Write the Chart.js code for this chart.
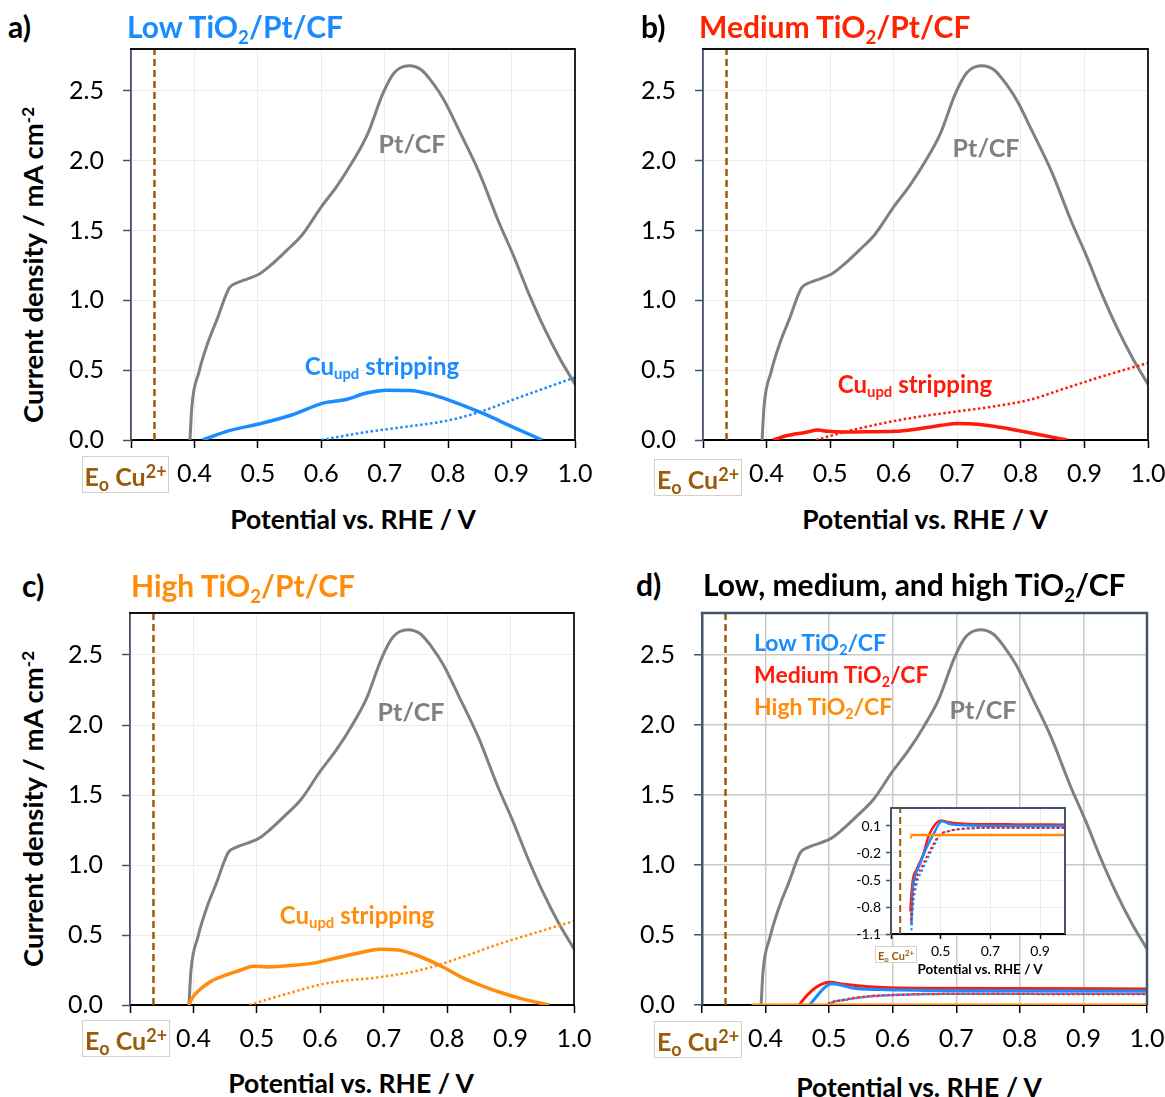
<!DOCTYPE html>
<html><head><meta charset="utf-8">
<script src="https://cdn.jsdelivr.net/npm/chart.js@4.4.1/dist/chart.umd.min.js"></script>
<style>
body{margin:0;background:#fff;width:1165px;height:1097px;position:relative;overflow:hidden;font-family:Lato,'Open Sans',sans-serif;}
canvas{position:absolute;}
.tx{position:absolute;white-space:nowrap;line-height:1;font-weight:bold;}
.tx sub{font-size:0.62em;vertical-align:-0.3em;line-height:0;}
.tx sup{font-size:0.62em;vertical-align:0.55em;line-height:0;}
.eo{position:absolute;border:1.5px solid #d8d0c4;background:#fff;color:#9A5B0A;font-weight:bold;white-space:nowrap;box-sizing:border-box;text-align:center;}
.eo span.in{position:absolute;left:50%;top:50%;transform:translate(-50%,-45%);line-height:1;}
.eo .sb{font-size:0.72em;position:relative;top:0.3em;}
.eo .sp{font-size:0.72em;position:relative;top:-0.42em;}
</style></head><body>
<script>
// ---------- data ----------
const eoCu = 0.337;
const xTickVals = [0.3,0.4,0.5,0.6,0.7,0.8,0.9,1.0];
const xTickLabels = ['','0.4','0.5','0.6','0.7','0.8','0.9','1.0'];
const yTickVals = [0,0.5,1.0,1.5,2.0,2.5];
const yTickLabels = ['0.0','0.5','1.0','1.5','2.0','2.5'];
const insetXTickVals = [0.3,0.5,0.7,0.9];
const insetXTickLabels = ['','0.5','0.7','0.9'];
const insetYTickVals = [0.1,-0.2,-0.5,-0.8,-1.1];
const insetYTickLabels = ['0.1','-0.2','-0.5','-0.8','-1.1'];

// Pt/CF (same in every panel)
const ptX = [0.393,0.396,0.407,0.422,0.437,0.449,0.455,0.467,0.485,0.503,0.52,0.546,0.57,0.60,0.625,0.649,0.673,0.697,0.715,0.738,0.758,0.776,0.794,0.818,0.849,0.879,0.903,0.927,0.951,0.976,1.0];
const ptY = [0,0.24,0.485,0.707,0.88,1.03,1.09,1.126,1.156,1.19,1.25,1.36,1.47,1.67,1.82,1.99,2.19,2.48,2.63,2.68,2.65,2.555,2.43,2.21,1.915,1.57,1.32,1.05,0.806,0.584,0.40];

// a) Low TiO2/Pt/CF
const lowX = [0.413,0.455,0.503,0.552,0.603,0.637,0.673,0.703,0.74,0.77,0.80,0.855,0.903,0.948];
const lowY = [0,0.067,0.116,0.177,0.264,0.288,0.338,0.357,0.355,0.33,0.288,0.19,0.091,0];
const lowDotX = [0.60,0.667,0.727,0.80,0.849,0.909,1.0];
const lowDotY = [0,0.054,0.091,0.14,0.2,0.30,0.448];

// b) Medium TiO2/Pt/CF
const medX = [0.41,0.431,0.461,0.481,0.496,0.52,0.555,0.602,0.637,0.673,0.702,0.732,0.767,0.802,0.838,0.873];
const medY = [0,0.03,0.054,0.071,0.062,0.057,0.059,0.062,0.079,0.104,0.118,0.113,0.091,0.062,0.03,0];
const medDotX = [0.478,0.52,0.579,0.637,0.696,0.755,0.814,0.873,0.932,1.0];
const medDotY = [0,0.054,0.116,0.165,0.202,0.239,0.288,0.375,0.461,0.552];

// c) High TiO2/Pt/CF
const highX = [0.393,0.397,0.409,0.427,0.452,0.476,0.494,0.518,0.555,0.591,0.627,0.664,0.694,0.724,0.755,0.791,0.821,0.852,0.882,0.918,0.961];
const highY = [0,0.044,0.105,0.167,0.215,0.252,0.277,0.272,0.282,0.301,0.338,0.375,0.399,0.392,0.35,0.277,0.203,0.142,0.093,0.044,0];
const highDotX = [0.488,0.548,0.609,0.70,0.76,0.821,0.882,0.942,1.0];
const highDotY = [0,0.081,0.154,0.203,0.252,0.338,0.436,0.52,0.60];

// d) TiO2/CF
const cfLowX = [0.382,0.386,0.395,0.415,0.442,0.469,0.505,0.536,0.578,0.65,0.8,1.0];
const cfLowY = [-1.0,-0.667,-0.48,-0.333,-0.148,0.0,0.152,0.122,0.11,0.104,0.101,0.10];
const cfMedX = [0.378,0.382,0.389,0.402,0.429,0.453,0.502,0.523,0.563,0.63,0.8,1.0];
const cfMedY = [-0.85,-0.667,-0.48,-0.389,-0.222,0.0,0.162,0.148,0.13,0.12,0.118,0.115];
const cfLowDotX = [0.382,0.389,0.402,0.429,0.469,0.497,0.53,0.563,0.63,0.7,1.0];
const cfLowDotY = [-1.06,-0.78,-0.556,-0.37,-0.14,0.0,0.04,0.06,0.075,0.08,0.08];
const cfMedDotX = [0.380,0.386,0.398,0.425,0.465,0.495,0.53,0.563,0.63,0.7,1.0];
const cfMedDotY = [-0.95,-0.72,-0.52,-0.35,-0.13,0.0,0.042,0.062,0.076,0.08,0.078];
const cfHighX = [0.378,0.5,0.7,1.0];
const cfHighY = [0.0,0.0,0.0,0.0];
const cfHighDotX = [0.378,0.382,0.39,1.0];
const cfHighDotY = [-0.04,-0.02,0.0,0.0];

// ---------- style ----------
const C = {pt:'#808080', blue:'#1A8CFF', red:'#FF1A0A', orange:'#FF8C0A', brown:'#9A5B0A', slate:'#44546A'};
const FONT = 'Lato';

function ds(xs, ys, color, w, dash, order){
  return {data: xs.map((x,i)=>({x:x, y:ys[i]})), borderColor:color, borderWidth:w,
    borderDash: dash||[], pointRadius:0, fill:false, cubicInterpolationMode:'monotone', order:order};
}
function eoLine(ymin, ymax, w){
  return {data:[{x:eoCu,y:ymin},{x:eoCu,y:ymax}], borderColor:C.brown, borderWidth:w, borderDash:[7,4], pointRadius:0, order:50};
}

const framePlugin = {
  id:'frame',
  beforeDraw(chart, args, o){
    if(o.bg){const a=chart.chartArea, ctx=chart.ctx; ctx.save(); ctx.fillStyle=o.bg; ctx.fillRect(a.left,a.top,a.right-a.left,a.bottom-a.top); ctx.restore();}
  },
  afterDraw(chart, args, o){
    const a=chart.chartArea, ctx=chart.ctx;
    ctx.save(); ctx.strokeStyle=o.color; ctx.lineWidth=o.width;
    ctx.beginPath(); ctx.moveTo(a.left-o.width/2, a.top); ctx.lineTo(a.right, a.top); ctx.lineTo(a.right, a.bottom); ctx.stroke();
    ctx.restore();
  }
};

function makeChart(o){
  const cw = o.yW + (o.r-o.l) + o.padR, ch = o.padT + (o.b-o.t) + o.xH;
  const cv = document.createElement('canvas');
  cv.width = cw; cv.height = ch;
  cv.style.left = (o.l-o.yW)+'px'; cv.style.top = (o.t-o.padT)+'px';
  cv.style.width = cw+'px'; cv.style.height = ch+'px';
  document.body.appendChild(cv);
  return new Chart(cv, {
    type:'line',
    data:{datasets:o.datasets},
    options:{
      responsive:false, animation:false, devicePixelRatio:1,
      layout:{padding:{top:o.padT, right:o.padR, left:0, bottom:0}},
      plugins:{legend:{display:false}, tooltip:{enabled:false}, frame:{color:o.frameColor, width:o.frameW, bg:o.bg}},
      scales:{
        x:{type:'linear', min:o.xmin, max:o.xmax,
          afterFit:s=>{s.height=o.xH; s.paddingLeft=0; s.paddingRight=0; s.paddingTop=0; s.paddingBottom=0;},
          afterBuildTicks:s=>{s.ticks=o.xTicks.map(v=>({value:v}));},
          ticks:{autoSkip:false, maxRotation:0, minRotation:0, padding:o.xPad, color:'#000', font:{family:FONT,size:o.fs},
            callback:(v,i)=>o.xLabels[i]},
          grid:{color:o.gridColor, lineWidth:o.gridW, tickLength:o.tl, tickColor:'#000', tickWidth:1.5},
          border:{display:true, color:'#000', width:o.xBorderW}
        },
        y:{type:'linear', min:o.ymin, max:o.ymax,
          afterFit:s=>{s.width=o.yW; s.paddingLeft=0; s.paddingRight=0; s.paddingTop=0; s.paddingBottom=0;},
          afterBuildTicks:s=>{s.ticks=o.yTicks.map(v=>({value:v}));},
          ticks:{autoSkip:false, padding:o.yPad, color:'#000', font:{family:FONT,size:o.fs},
            callback:(v,i)=>o.yLabels[i]},
          grid:{color:o.gridColor, lineWidth:o.gridW, tickLength:o.tl, tickColor:o.yAxisColor, tickWidth:1.5},
          border:{display:true, color:o.yAxisColor, width:o.yBorderW}
        }
      }
    },
    plugins:[framePlugin]
  });
}

function mainPanel(ca, extra, isD){
  const datasets = [ds(ptX, ptY, C.pt, 3, null, 40), eoLine(0, 2.8, 2.5)].concat(extra);
  return makeChart({l:ca[0], t:ca[1], r:ca[2], b:ca[3], yW:80, xH:50, padT:10, padR:25,
    xmin:0.3, xmax:1.0, ymin:0, ymax:2.8, xTicks:xTickVals, xLabels:xTickLabels, yTicks:yTickVals, yLabels:yTickLabels,
    fs:25, xPad:11, yPad:19, tl:8,
    gridColor: isD ? '#c9c9c9' : '#ececec', gridW: isD ? 1.5 : 1,
    yAxisColor: C.slate, frameColor: isD ? C.slate : '#111', frameW: isD ? 2.5 : 1.8,
    xBorderW:2, yBorderW: isD ? 2.5 : 1.8, datasets});
}

// a
mainPanel([131,49,575,440], [ds(lowX, lowY, C.blue, 3.5, null, 1), ds(lowDotX, lowDotY, C.blue, 2.5, [2.5,2.5], 2)]);
// b
mainPanel([703,49,1148,440], [ds(medX, medY, C.red, 3.5, null, 1), ds(medDotX, medDotY, C.red, 2.5, [2.5,2.5], 2)]);
// c
mainPanel([130,613,574,1005], [ds(highX, highY, C.orange, 3.5, null, 1), ds(highDotX, highDotY, C.orange, 2.5, [2.5,2.5], 2)]);
// d
const dSets = () => [
  ds(cfHighX, cfHighY, C.orange, 3, null, 1),
  ds(cfHighDotX, cfHighDotY, C.orange, 2.5, [2.5,2.5], 2),
  ds(cfMedDotX, cfMedDotY, C.red, 2.5, [2.5,2.5], 3),
  ds(cfLowDotX, cfLowDotY, C.blue, 2.5, [2.5,2.5], 4),
  ds(cfLowX, cfLowY, C.blue, 3, null, 5),
  ds(cfMedX, cfMedY, C.red, 3, null, 6)
];
mainPanel([702,613,1147,1005], dSets(), true);

// inset
makeChart({l:891, t:808, r:1065, b:934, yW:50, xH:28, padT:6, padR:12,
  xmin:0.3, xmax:1.0, ymin:-1.1, ymax:0.3, xTicks:insetXTickVals, xLabels:insetXTickLabels, yTicks:insetYTickVals, yLabels:insetYTickLabels,
  fs:14, xPad:4, yPad:5, tl:5, gridColor:'#ededed', gridW:1, yAxisColor:C.slate, frameColor:C.slate, frameW:2,
  xBorderW:2, yBorderW:2, bg:'#fff',
  datasets:[eoLine(-1.1, 0.3, 2)].concat(dSets().map(d=>Object.assign(d,{borderWidth: d.borderDash.length?2:2.5})))});

// ---------- text ----------
function txt(html, x, y, size, color, align){
  const d = document.createElement('div');
  d.className='tx'; d.innerHTML=html;
  d.style.fontSize=size+'px'; d.style.color=color;
  d.style.left=x+'px'; d.style.top=y+'px';
  d.style.transform = align==='left' ? 'translate(0,-50%)' : 'translate(-50%,-50%)';
  document.body.appendChild(d); return d;
}
function ytitle(x, y){
  const d = txt('Current density / mA cm<sup>-2</sup>', x, y, 27.5, '#000');
  d.style.transform='translate(-50%,-50%) rotate(-90deg)';
}
function eoBox(l, t, w, h, size){
  const d=document.createElement('div'); d.className='eo';
  d.innerHTML='<span class="in">E<span class="sb">o</span> Cu<span class="sp">2+</span></span>';
  d.style.left=l+'px'; d.style.top=t+'px'; d.style.width=w+'px'; d.style.height=h+'px'; d.style.fontSize=size+'px';
  document.body.appendChild(d);
}
const TI = 'TiO<sub>2</sub>';
// panel titles
txt('a)', 8, 26, 30, '#000', 'left');
txt('Low '+TI+'/Pt/CF', 127, 26, 30, C.blue, 'left');
txt('b)', 641, 26, 30, '#000', 'left');
txt('Medium '+TI+'/Pt/CF', 699, 26, 30, '#FF2400', 'left');
txt('c)', 22, 585, 30, '#000', 'left');
txt('High '+TI+'/Pt/CF', 131, 585, 30, C.orange, 'left');
txt('d)', 636, 584, 30, '#000', 'left');
txt('Low, medium, and high '+TI+'/CF', 703, 584, 30, '#000', 'left');
// axis titles
ytitle(33, 265); ytitle(33, 809);
txt('Potential vs. RHE / V', 353, 519, 26.5, '#000');
txt('Potential vs. RHE / V', 925, 519, 26.5, '#000');
txt('Potential vs. RHE / V', 351, 1083, 26.5, '#000');
txt('Potential vs. RHE / V', 919, 1087, 26.5, '#000');
txt('Potential vs. RHE / V', 980, 970, 13.5, '#000');
eoBox(82, 456, 87, 37, 25);
eoBox(654, 459, 88, 37, 25);
eoBox(82, 1020, 88, 37, 25);
eoBox(654, 1021, 88, 37, 25);
eoBox(875, 946, 42, 17, 11);
// annotations
txt('Pt/CF', 412, 143, 25, C.pt); txt('Pt/CF', 986, 147, 25, C.pt); txt('Pt/CF', 411, 711, 25, C.pt); txt('Pt/CF', 983, 709, 25, C.pt);
txt('Cu<sub>upd</sub> stripping', 382, 366, 24, C.blue);
txt('Cu<sub>upd</sub> stripping', 915, 384, 24, C.red);
txt('Cu<sub>upd</sub> stripping', 357, 915, 24, C.orange);
txt('Low '+TI+'/CF', 754, 642, 23, C.blue, 'left');
txt('Medium '+TI+'/CF', 754, 674, 23, C.red, 'left');
txt('High '+TI+'/CF', 754, 706, 23, C.orange, 'left');
</script>
</body></html>
